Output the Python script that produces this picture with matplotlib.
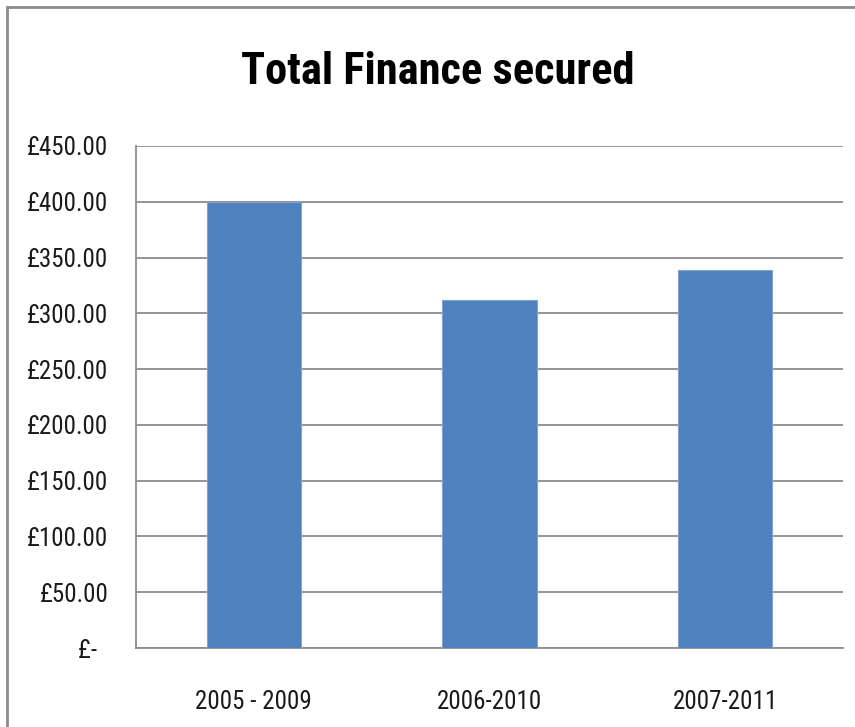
import matplotlib
matplotlib.use("Agg")
import matplotlib.pyplot as plt
from matplotlib.patches import Rectangle
from matplotlib.ticker import FuncFormatter, MultipleLocator
from matplotlib import font_manager

categories = ["2005 - 2009", "2006-2010", "2007-2011"]
values = [400, 312, 339]

names = {f.name for f in font_manager.fontManager.ttflist}
FONT = [n for n in ["Roboto Condensed", "Liberation Sans Narrow", "DejaVu Sans Condensed", "Roboto", "DejaVu Sans"] if n in names]
plt.rcParams['font.family'] = FONT

fig = plt.figure(figsize=(8.55, 7.27), dpi=100)
fig.patch.set_facecolor("white")
fig.patches.append(Rectangle((7/855, -0.1), 1.2, 1 - 7/727 + 0.1, transform=fig.transFigure,
                             fill=False, edgecolor="#8c8c8c", linewidth=2))

ax = fig.add_axes([136/855, 1 - 648/727, (843 - 136)/855, (648 - 146)/727])
x = range(len(categories))
ax.bar(x, values, width=0.4, color="#4F81BD", edgecolor="#7fa4d4", linewidth=0.8, zorder=3)
ax.set_xlim(-0.5, 2.5)
ax.set_ylim(0, 450)
ax.yaxis.set_major_locator(MultipleLocator(50))
ax.yaxis.set_major_formatter(FuncFormatter(lambda v, p: "£-  " if v == 0 else f"£{v:.2f}"))
ax.grid(axis="y", color="#8c8c8c", linewidth=1.3, zorder=0)
ax.set_xticks(list(x))
ax.set_xticklabels(categories)
ax.tick_params(axis="both", length=0, labelsize=18, colors="#1a1a1a")
ax.tick_params(axis="y", pad=20)
ax.tick_params(axis="x", pad=30)
for s in ["top", "right"]:
    ax.spines[s].set_visible(False)
for s in ["left", "bottom"]:
    ax.spines[s].set_color("#8c8c8c")
    ax.spines[s].set_linewidth(1.3)

fig.text(438/855, 1 - 72/727, "Total Finance secured", ha="center", va="center",
         fontsize=32, fontweight="bold", color="black")

fig.savefig("out.png", dpi=100)
